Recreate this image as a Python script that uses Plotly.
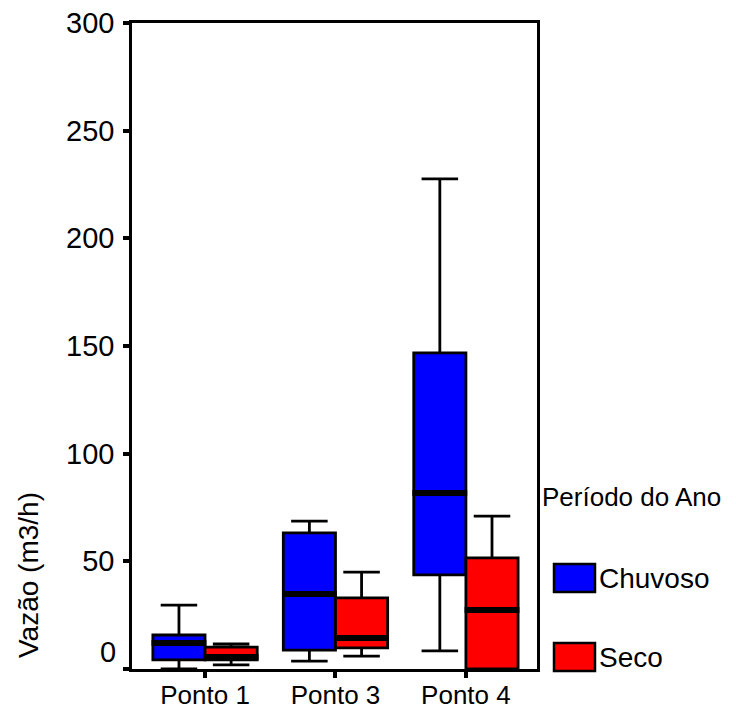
import numpy as np
import plotly.graph_objects as go

# ---- data ----
categories = ["Ponto 1", "Ponto 3", "Ponto 4"]
groups = ["Chuvoso", "Seco"]
colors = ["#0000FF", "#FF0000"]

chuvoso_lower = [0.0, 3.7, 8.4]
chuvoso_q1 = [4.2, 8.8, 43.7]
chuvoso_median = [12.1, 34.8, 81.7]
chuvoso_q3 = [15.8, 63.2, 146.8]
chuvoso_upper = [29.7, 68.7, 227.6]

seco_lower = [1.9, 6.0, 0.0]
seco_q1 = [4.2, 9.8, 0.0]
seco_median = [5.6, 14.4, 27.4]
seco_q3 = [10.2, 33.0, 51.6]
seco_upper = [11.6, 45.0, 71.0]

y_ticks = [0, 50, 100, 150, 200, 250, 300]

stats = {
    "Chuvoso": (chuvoso_lower, chuvoso_q1, chuvoso_median, chuvoso_q3, chuvoso_upper),
    "Seco": (seco_lower, seco_q1, seco_median, seco_q3, seco_upper),
}

FONT = "Liberation Sans, Arial, sans-serif"
pos = np.arange(len(categories))
bw = 0.4
offsets = {"Chuvoso": -bw / 2, "Seco": bw / 2}

fig = go.Figure()
for g, col in zip(groups, colors):
    lo, q1, med, q3, up = stats[g]
    xs = pos + offsets[g]
    fig.add_trace(go.Box(
        x=xs, q1=q1, median=med, q3=q3, lowerfence=lo, upperfence=up,
        width=bw, whiskerwidth=0.7, fillcolor=col,
        line=dict(color="black", width=2.8),
        name=g, showlegend=False, hoverinfo="skip",
    ))
# thick median lines
for g in groups:
    med = stats[g][2]
    xs = pos + offsets[g]
    for xc, m in zip(xs, med):
        fig.add_trace(go.Scatter(
            x=[xc - bw / 2 - 0.01, xc + bw / 2 + 0.01], y=[m, m], mode="lines",
            line=dict(color="black", width=6), showlegend=False, hoverinfo="skip",
        ))

# page body has an 8px default margin; compensate
OFF = 8
FIG_W, FIG_H = 736 - OFF, 711 - OFF
PL, PR, PT, PB = 132, 537, 23, 669          # plot area in screen pixels
L, T = PL - OFF, PT - OFF
R = FIG_W - (PR - OFF)
B = FIG_H - (PB - OFF)
W = PR - PL
H = PB - PT

def px_x(px):
    return (px - PL) / W

def px_y(py):
    return (PB - py) / H

fig.update_layout(
    width=FIG_W, height=FIG_H,
    margin=dict(l=L, r=R, t=T, b=B, autoexpand=False),
    paper_bgcolor="white", plot_bgcolor="white",
    font=dict(family=FONT, size=28, color="black"),
    boxmode="overlay",
    xaxis=dict(
        range=[-0.56, 2.545], tickvals=list(pos), ticktext=categories,
        showline=True, linecolor="black", linewidth=2.5, mirror=True,
        ticks="outside", ticklen=6, tickwidth=4, tickcolor="black",
        showgrid=False, zeroline=False, tickfont=dict(size=26),
        ticklabelstandoff=-5, automargin=False, ticklabeloverflow="allow",
    ),
    yaxis=dict(
        range=[0, 300], tickvals=y_ticks,
        ticktext=["" if v == 0 else str(v) for v in y_ticks],
        showline=True, linecolor="black", linewidth=2.5, mirror=True,
        ticks="outside", ticklen=6, tickwidth=4, tickcolor="black",
        showgrid=False, zeroline=False, tickfont=dict(size=29),
        ticklabelstandoff=3, automargin=False, ticklabeloverflow="allow",
    ),
)

ann = [
    dict(text="0", xref="paper", yref="y", x=0, y=y_ticks[0], xanchor="right",
         yanchor="middle", xshift=-14, yshift=17, showarrow=False,
         font=dict(size=29)),
    dict(text="Vazão (m3/h)", xref="paper", yref="paper", x=px_x(28), y=px_y(575),
         xanchor="center", yanchor="middle", textangle=-90, showarrow=False,
         font=dict(size=28)),
    dict(text="Período do Ano", xref="paper", yref="paper", x=px_x(540), y=px_y(497),
         xanchor="left", yanchor="middle", showarrow=False, font=dict(size=26)),
]
legend_y = [578, 657]
shapes = []
for g, col, yc in zip(groups, colors, legend_y):
    shapes.append(dict(type="rect", xref="paper", yref="paper",
                       x0=px_x(554), x1=px_x(595), y0=px_y(yc + 14), y1=px_y(yc - 14),
                       fillcolor=col, line=dict(color="black", width=2.5)))
    ann.append(dict(text=g, xref="paper", yref="paper", x=px_x(597), y=px_y(yc),
                    xanchor="left", yanchor="middle", showarrow=False,
                    font=dict(size=28)))
fig.update_layout(annotations=ann, shapes=shapes)

fig.write_html("out.html")
